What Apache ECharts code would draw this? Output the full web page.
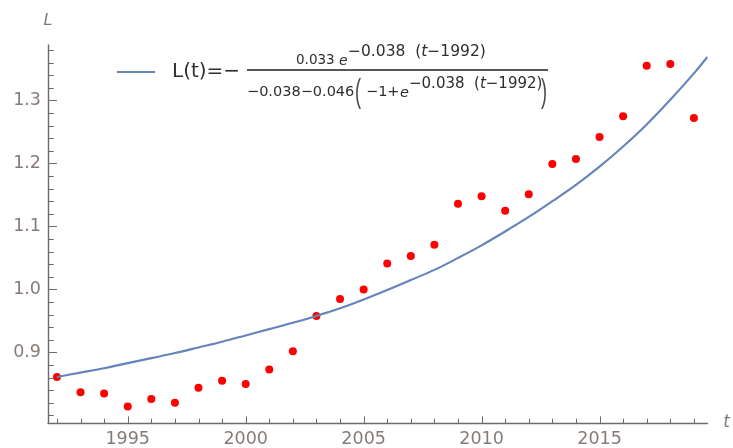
<!DOCTYPE html>
<html>
<head>
<meta charset="utf-8">
<script src="https://cdn.jsdelivr.net/npm/echarts@6/dist/echarts.min.js"></script>
<style>
  html, body { margin: 0; padding: 0; background: #ffffff; }
  #chart { width: 733px; height: 448px; }
</style>
</head>
<body>
<div id="chart"></div>
<script>
// Observed yearly values of L
const years = [1992, 1993, 1994, 1995, 1996, 1997, 1998, 1999, 2000, 2001,
               2002, 2003, 2004, 2005, 2006, 2007, 2008, 2009, 2010, 2011,
               2012, 2013, 2014, 2015, 2016, 2017, 2018, 2019];
const observed = [0.861, 0.837, 0.835, 0.814, 0.826, 0.820, 0.844, 0.855, 0.850, 0.873,
                  0.902, 0.958, 0.985, 1.000, 1.041, 1.053, 1.071, 1.136, 1.148, 1.125,
                  1.151, 1.199, 1.207, 1.242, 1.275, 1.355, 1.358, 1.272];

// Fitted curve L(t), sampled along t
const fitT = [1992, 1993, 1994, 1995, 1996, 1997, 1998, 1999, 2000, 2001,
              2002, 2003, 2004, 2005, 2006, 2007, 2008, 2009, 2010, 2011,
              2012, 2013, 2014, 2015, 2016, 2017, 2018, 2019, 2019.57];
const fitL = [0.861, 0.868, 0.875, 0.883, 0.891, 0.899, 0.908, 0.917, 0.927, 0.937,
              0.947, 0.958, 0.970, 0.984, 0.999, 1.015, 1.031, 1.050, 1.070, 1.092,
              1.115, 1.140, 1.166, 1.195, 1.227, 1.262, 1.301, 1.343, 1.369];

// Axis ranges and ticks
const tMin = 1991.62, tMax = 2019.57;
const lMin = 0.788, lMax = 1.388;
const tMinorTicks = [1992, 1993, 1994, 1996, 1997, 1998, 1999, 2001,
                     2002, 2003, 2004, 2006, 2007, 2008, 2009, 2011,
                     2012, 2013, 2014, 2016, 2017, 2018, 2019];
const tMajorTicks = [1995, 2000, 2005, 2010, 2015];
const lMinorTicks = [0.80, 0.82, 0.84, 0.86, 0.88, 0.92, 0.94, 0.96, 0.98,
                     1.02, 1.04, 1.06, 1.08, 1.12, 1.14, 1.16, 1.18,
                     1.22, 1.24, 1.26, 1.28, 1.32, 1.34, 1.36, 1.38];
const lMajorTicks = [0.9, 1.0, 1.1, 1.2, 1.3];

const FONT = 'DejaVu Sans';
const axisColor = '#6b6b6b';
const labelColor = '#857c77';
const curveColor = '#6385bb';
const formulaColor = '#2e2e2e';

const chart = echarts.init(document.getElementById('chart'), null, { renderer: 'canvas' });

const tickLabelStyle = { fontFamily: FONT, fontSize: 17.5, color: labelColor };

// Tick marks pointing into the plot area, placed through the axis scales
function tickSeries(values, dim, len) {
  return {
    type: 'custom',
    silent: true,
    clip: false,
    z: 4,
    data: values.map(v => (dim === 'x' ? [v, lMin] : [tMin, v])),
    encode: { x: 0, y: 1 },
    renderItem: (params, api) => {
      const p = api.coord([api.value(0), api.value(1)]);
      if (dim === 'x') {
        const x = Math.round(p[0]) + 0.5;
        return { type: 'line', shape: { x1: x, y1: p[1], x2: x, y2: p[1] - len },
                 style: { stroke: axisColor, lineWidth: 1 } };
      }
      const y = Math.round(p[1]) + 0.5;
      return { type: 'line', shape: { x1: p[0], y1: y, x2: p[0] + len, y2: y },
               style: { stroke: axisColor, lineWidth: 1 } };
    }
  };
}

const supRich = (size) => ({
  n: { fontFamily: FONT, fontSize: size, fill: formulaColor },
  i: { fontFamily: FONT, fontSize: size, fontStyle: 'italic', fill: formulaColor }
});

chart.setOption({
  animation: false,
  backgroundColor: '#ffffff',
  textStyle: { fontFamily: FONT },
  grid: { left: 48, right: 23, top: 45, bottom: 25, containLabel: false },
  legend: {
    data: [{ name: 'L(t)=\u2212', icon: 'rect' }],
    left: 117,
    top: 60,
    padding: 0,
    itemWidth: 38,
    itemHeight: 2.2,
    selectedMode: false,
    textStyle: { fontFamily: FONT, fontSize: 20, color: formulaColor, lineHeight: 24, padding: [0, 0, 0, 12] }
  },
  xAxis: {
    type: 'value', min: tMin, max: tMax,
    name: 't', nameLocation: 'end', nameGap: 16,
    nameTextStyle: { fontFamily: FONT, fontSize: 17, fontStyle: 'italic', color: '#7c7a80', verticalAlign: 'middle' },
    axisLine: { show: true, lineStyle: { color: axisColor, width: 1.4 } },
    axisTick: { show: false },
    axisLabel: Object.assign({ customValues: tMajorTicks, margin: 7, formatter: v => String(v) }, tickLabelStyle),
    splitLine: { show: false }
  },
  yAxis: {
    type: 'value', min: lMin, max: lMax,
    name: 'L', nameLocation: 'end', nameGap: 16,
    nameTextStyle: { fontFamily: FONT, fontSize: 16, fontStyle: 'italic', color: '#7a7d88' },
    axisLine: { show: true, lineStyle: { color: axisColor, width: 1.4 } },
    axisTick: { show: false },
    axisLabel: Object.assign({ customValues: lMajorTicks, margin: 7, formatter: v => v.toFixed(1) }, tickLabelStyle),
    splitLine: { show: false }
  },
  series: [
    tickSeries(tMinorTicks, 'x', 4.3),
    tickSeries(tMajorTicks, 'x', 6.7),
    tickSeries(lMinorTicks, 'y', 5.7),
    tickSeries(lMajorTicks, 'y', 9),
    {
      type: 'scatter',
      name: 'data',
      data: years.map((t, i) => [t, observed[i]]),
      symbol: 'circle',
      symbolSize: 8,
      itemStyle: { color: '#ff0000', opacity: 1 },
      z: 2
    },
    {
      type: 'line',
      name: 'L(t)=\u2212',
      data: fitT.map((t, i) => [t, fitL[i]]),
      smooth: 0.35,
      symbol: 'none',
      showSymbol: false,
      lineStyle: { color: curveColor, width: 2.1 },
      itemStyle: { color: curveColor },
      z: 3
    }
  ],
  graphic: [
    // numerator
    { type: 'text', x: 296, y: 60, style: { text: '0.033', fontFamily: FONT, fontSize: 13.5, fill: formulaColor, verticalAlign: 'middle' } },
    { type: 'text', x: 339, y: 61, style: { text: 'e', fontFamily: FONT, fontSize: 14, fontStyle: 'italic', fill: formulaColor, verticalAlign: 'middle' } },
    { type: 'text', x: 348, y: 52, style: { text: '{n|\u22120.038  (}{i|t}{n|\u22121992)}', verticalAlign: 'middle', rich: supRich(15.5) } },
    // fraction bar
    { type: 'line', shape: { x1: 247, y1: 70, x2: 548, y2: 70 }, style: { stroke: '#1e1e1e', lineWidth: 1.6 } },
    // denominator
    { type: 'text', x: 247, y: 92, style: { text: '\u22120.038\u22120.046', fontFamily: FONT, fontSize: 14.5, fill: formulaColor, verticalAlign: 'middle' } },
    { type: 'text', x: 355, y: 93, scaleX: 0.55, style: { text: '(', fontFamily: 'Liberation Sans', fontSize: 33, fill: '#4a4a4a', verticalAlign: 'middle' } },
    { type: 'text', x: 366, y: 92, style: { text: '\u22121+', fontFamily: FONT, fontSize: 14.5, fill: formulaColor, verticalAlign: 'middle' } },
    { type: 'text', x: 400, y: 93, style: { text: 'e', fontFamily: FONT, fontSize: 14.5, fontStyle: 'italic', fill: formulaColor, verticalAlign: 'middle' } },
    { type: 'text', x: 409, y: 84, style: { text: '{n|\u22120.038  (}{i|t}{n|\u22121992)}', verticalAlign: 'middle', rich: supRich(15) } },
    { type: 'text', x: 541, y: 93, scaleX: 0.55, style: { text: ')', fontFamily: 'Liberation Sans', fontSize: 33, fill: '#4a4a4a', verticalAlign: 'middle' } }
  ]
});
</script>
</body>
</html>
